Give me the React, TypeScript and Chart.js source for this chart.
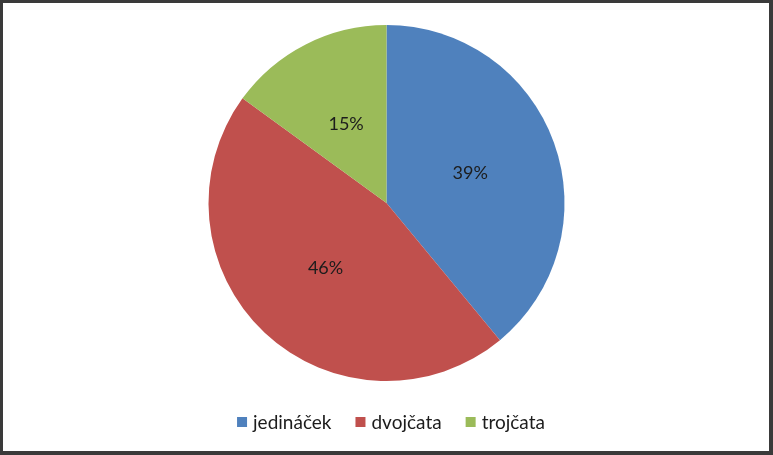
import React, { useEffect, useRef } from "react";
import { Chart, registerables } from "chart.js";

Chart.register(...registerables);

const categories = ["jedináček", "dvojčata", "trojčata"];
const values = [39, 46, 15];
const colors = ["#4F81BD", "#C0504D", "#9BBB59"];
const FONT = "Lato, 'Open Sans', sans-serif";

const labelsPlugin = {
  id: "sliceLabels",
  afterDatasetsDraw(chart: any) {
    const ctx = chart.ctx;
    const meta = chart.getDatasetMeta(0);
    const data = chart.data.datasets[0].data as number[];
    const total = data.reduce((a, b) => a + b, 0);
    ctx.save();
    ctx.font = `18px ${FONT}`;
    ctx.fillStyle = "#1c1c1c";
    ctx.textAlign = "center";
    ctx.textBaseline = "middle";
    meta.data.forEach((arc: any, i: number) => {
      const p = arc.tooltipPosition();
      ctx.fillText(Math.round((data[i] / total) * 100) + "%", p.x, p.y);
    });
    ctx.restore();
  },
};

const legendPlugin = {
  id: "customLegend",
  afterDraw(chart: any) {
    const ctx = chart.ctx;
    const labels = chart.data.labels as string[];
    const bg = chart.data.datasets[0].backgroundColor as string[];
    ctx.save();
    ctx.font = `19px ${FONT}`;
    const box = 10;
    const gap = 6;
    const spacing = 24;
    const widths = labels.map((l) => box + gap + ctx.measureText(l).width);
    const total = widths.reduce((a, b) => a + b, 0) + spacing * (labels.length - 1);
    let x = 388 - total / 2;
    const cy = 419;
    ctx.textBaseline = "middle";
    ctx.textAlign = "left";
    labels.forEach((l, i) => {
      ctx.fillStyle = bg[i];
      ctx.fillRect(x, cy - box / 2, box, box);
      ctx.fillStyle = "#1c1c1c";
      ctx.fillText(l, x + box + gap, cy + 1);
      x += widths[i] + spacing;
    });
    ctx.restore();
  },
};

export default function App() {
  const ref = useRef<HTMLCanvasElement | null>(null);
  useEffect(() => {
    if (!ref.current) return;
    const chart = new Chart(ref.current, {
      type: "pie",
      data: {
        labels: categories,
        datasets: [
          {
            data: values,
            backgroundColor: colors,
            borderWidth: 0,
          },
        ],
      },
      options: {
        animation: false,
        responsive: false,
        maintainAspectRatio: false,
        layout: { padding: { top: 22, bottom: 70, left: 1, right: 0 } },
        plugins: {
          legend: { display: false },
          tooltip: { enabled: false },
        },
      },
      plugins: [labelsPlugin, legendPlugin],
    });
    return () => chart.destroy();
  }, []);
  return (
    <div
      style={{
        position: "fixed",
        left: 0,
        top: 0,
        width: 773,
        height: 455,
        boxSizing: "border-box",
        borderStyle: "solid",
        borderColor: "#3a3a3a",
        borderWidth: "3px 4px 4px 3px",
        background: "#fff",
      }}
    >
      <canvas ref={ref} width={766} height={448} style={{ display: "block" }} />
    </div>
  );
}
